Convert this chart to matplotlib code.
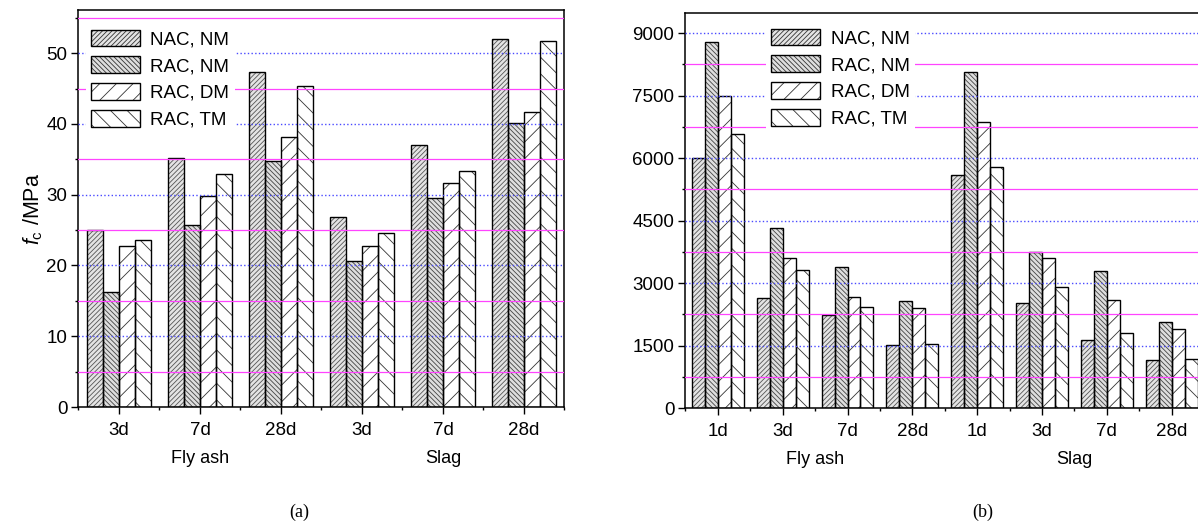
import numpy as np
import matplotlib
matplotlib.use('Agg')
import matplotlib.pyplot as plt
from matplotlib.patches import Patch
from matplotlib.legend_handler import HandlerTuple
from matplotlib.ticker import MultipleLocator, FixedLocator

plt.rcParams['font.family'] = ['Liberation Sans', 'DejaVu Sans']
plt.rcParams['mathtext.fontset'] = 'custom'
plt.rcParams['mathtext.it'] = 'Liberation Sans:italic'
plt.rcParams['mathtext.rm'] = 'Liberation Sans'
plt.rcParams['hatch.linewidth'] = 0.6

series = ['NAC, NM', 'RAC, NM', 'RAC, DM', 'RAC, TM']

# (a) compressive strength, MPa
ages_a = ['3d', '7d', '28d', '3d', '7d', '28d']
fc_nac_nm = [25.0, 35.2, 47.3, 26.9, 37.0, 52.0]
fc_rac_nm = [16.3, 25.7, 34.8, 20.7, 29.6, 40.2]
fc_rac_dm = [22.8, 29.8, 38.2, 22.7, 31.7, 41.7]
fc_rac_tm = [23.6, 32.9, 45.4, 24.6, 33.4, 51.7]

# (b) second panel
ages_b = ['1d', '3d', '7d', '28d', '1d', '3d', '7d', '28d']
b_nac_nm = [6000, 2630, 2230, 1510, 5600, 2530, 1630, 1150]
b_rac_nm = [8780, 4320, 3380, 2580, 8060, 3740, 3300, 2070]
b_rac_dm = [7490, 3610, 2670, 2410, 6870, 3600, 2590, 1890]
b_rac_tm = [6570, 3310, 2420, 1540, 5780, 2910, 1790, 1170]

binders = ['Fly ash', 'Slag']

hatches = ['///////', '\\\\\\\\\\\\\\', '//', '\\\\']
hatch_cols = ['#555555', '#444444', '#333333', '#333333']
face_cols = ['#e4e4e4', '#dedede', 'white', 'white']


def draw_panel(ax, ages, data, major, ytop, binder_x, legend_anchor):
    n = len(ages)
    x = np.arange(n)
    w = 0.2
    for k, vals in enumerate(data):
        pos = x - 0.3 + k * w
        ax.bar(pos, vals, w, color=face_cols[k], edgecolor=hatch_cols[k], hatch=hatches[k],
               linewidth=0, zorder=2)
        ax.bar(pos, vals, w, color='none', edgecolor='black', linewidth=1.0, zorder=2.5)
    ax.set_xlim(-0.5, n - 0.5)
    ax.set_ylim(0, ytop)
    ax.set_xticks(x)
    ax.set_xticklabels(ages)
    ax.xaxis.set_minor_locator(FixedLocator(np.arange(n + 1) - 0.5))
    ax.yaxis.set_major_locator(MultipleLocator(major))
    ax.yaxis.set_minor_locator(MultipleLocator(major / 2))
    ax.tick_params(which='major', direction='out', length=5, width=1, labelsize=13.5)
    ax.tick_params(which='minor', direction='out', length=2.5, width=1)
    ax.tick_params(axis='x', which='major', pad=6)
    ax.tick_params(axis='y', which='major', pad=3)
    for s in ax.spines.values():
        s.set_linewidth(1.1)
    # horizontal guide lines
    yv = major / 2
    while yv < ytop:
        if abs(yv / major - round(yv / major)) < 1e-6:
            ax.axhline(yv, color='#4a4aff', lw=1.0, ls=':', zorder=3)
        else:
            ax.axhline(yv, color='#ff44ff', lw=0.9, zorder=3)
        yv += major / 2
    for bx, name in zip(binder_x, binders):
        ax.text(bx, -0.13, name, transform=ax.get_xaxis_transform(),
                ha='center', va='center', fontsize=13)
    handles = []
    for k in range(4):
        handles.append((Patch(facecolor=face_cols[k], edgecolor='#333333', hatch=hatches[k], lw=0),
                        Patch(facecolor='none', edgecolor='black', lw=1.0)))
    leg = ax.legend(handles, series, handler_map={tuple: HandlerTuple(ndivide=1)},
                    loc='upper left', bbox_to_anchor=legend_anchor, frameon=True,
                    fontsize=13.5, handlelength=2.6, handleheight=0.95,
                    labelspacing=0.45, handletextpad=0.55, borderpad=0.3,
                    borderaxespad=0)
    leg.get_frame().set_edgecolor('none')
    leg.get_frame().set_facecolor('white')
    leg.get_frame().set_alpha(1)
    leg.set_zorder(5)


fig = plt.figure(figsize=(11.98, 5.29), dpi=100)
ax1 = fig.add_axes([0.0655, 0.2306, 0.4057, 0.7505])
ax2 = fig.add_axes([0.5722, 0.2287, 0.4328, 0.7467])

draw_panel(ax1, ages_a, [fc_nac_nm, fc_rac_nm, fc_rac_dm, fc_rac_tm], 10, 56.1,
           [1, 4], (0.015, 0.965))
ax1.set_ylabel(r'$f_{\rm c}$ /MPa', fontsize=15.5, labelpad=1)

draw_panel(ax2, ages_b, [b_nac_nm, b_rac_nm, b_rac_dm, b_rac_tm], 1500, 9480,
           [1.5, 5.5], (0.155, 0.975))

fig.text(0.25, 0.032, '(a)', ha='center', va='center', fontsize=13,
         family='Liberation Serif')
fig.text(0.82, 0.032, '(b)', ha='center', va='center', fontsize=13,
         family='Liberation Serif')

fig.savefig('out.png', dpi=100)
